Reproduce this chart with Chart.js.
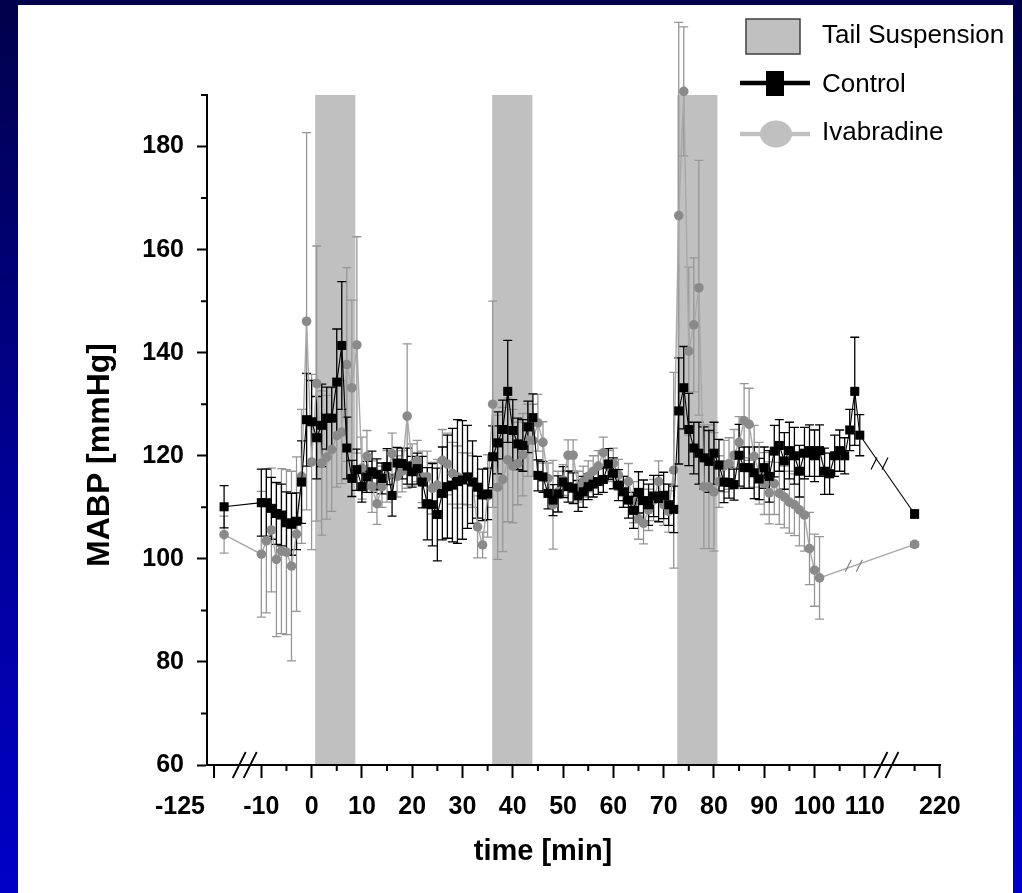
<!DOCTYPE html>
<html>
<head>
<meta charset="utf-8">
<title>MABP - tail suspension</title>
<script src="https://cdn.jsdelivr.net/npm/chart.js@4.4.1/dist/chart.umd.min.js"></script>
<style>
  html, body { margin: 0; padding: 0; }
  body { width: 1022px; height: 893px; position: relative; overflow: hidden;
         background: linear-gradient(to bottom, #00004a 0%, #000090 50%, #0000c8 100%); }
  #paper { position: absolute; left: 18px; top: 5px; width: 995px; height: 888px; background: #fff; }
  #chart { position: absolute; left: 0; top: 0; }
</style>
</head>
<body>
<div id="paper"></div>
<canvas id="chart" width="1022" height="893"></canvas>
<script>
// time grid of the recording (min)
const minutes = [
  -10, -9, -8, -7, -6, -5, -4, -3, -2, -1,
  0, 1, 2, 3, 4, 5, 6, 7, 8, 9,
  10, 11, 12, 13, 14, 15, 16, 17, 18, 19,
  20, 21, 22, 23, 24, 25, 26, 27, 28, 29,
  30, 31, 32, 33, 34, 35, 36, 37, 38, 39,
  40, 41, 42, 43, 44, 45, 46, 47, 48, 49,
  50, 51, 52, 53, 54, 55, 56, 57, 58, 59,
  60, 61, 62, 63, 64, 65, 66, 67, 68, 69,
  70, 71, 72, 73, 74, 75, 76, 77, 78, 79,
  80, 81, 82, 83, 84, 85, 86, 87, 88, 89,
  90, 91, 92, 93, 94, 95, 96, 97, 98, 99,
  100, 101, 102, 103, 104, 105, 106, 107, 108, 109
];

// Control: MABP mean and SEM (mmHg)
const controlMean = [
  110.9, 110.9, 109.8, 108.8, 108.5, 107.0, 106.7, 107.3, 114.9, 127.0,
  126.6, 123.5, 125.9, 127.3, 127.3, 134.3, 141.4, 121.5, 115.6, 117.3,
  114.0, 115.9, 116.9, 116.4, 115.6, 117.9, 112.3, 118.6, 118.5, 118.0,
  116.9, 117.5, 114.9, 110.7, 110.5, 108.6, 112.7, 114.0, 114.3, 115.0,
  115.3, 115.9, 114.9, 113.9, 112.4, 112.6, 119.8, 122.5, 125.1, 132.5,
  124.9, 122.3, 122.0, 125.6, 127.4, 116.2, 115.9, 112.7, 111.4, 112.6,
  114.9, 114.0, 113.7, 112.2, 113.0, 114.0, 114.5, 115.0, 115.4, 118.4,
  116.6, 114.3, 113.0, 111.4, 109.4, 112.9, 111.3, 110.5, 112.2, 111.7,
  112.3, 110.5, 109.6, 128.7, 133.2, 125.1, 121.5, 120.5, 119.6, 118.9,
  120.5, 118.2, 114.9, 114.8, 114.4, 120.1, 117.7, 117.7, 116.7, 115.5,
  117.7, 116.0, 120.9, 122.0, 119.0, 121.0, 120.0, 117.0, 120.5, 121.0,
  120.0, 121.0, 117.0, 116.5, 120.0, 121.0, 120.0, 125.0, 132.5, 124.0
];
const controlSem = [
  6.5, 6.5, 6.0, 6.0, 6.0, 6.0, 6.0, 5.5, 8.0, 9.0,
  8.0, 8.0, 8.0, 6.0, 6.0, 10.3, 12.4, 6.0, 3.5, 4.0,
  3.0, 3.0, 4.0, 3.0, 3.0, 3.5, 4.0, 3.0, 3.0, 3.5,
  3.0, 3.0, 5.0, 7.0, 8.0, 9.0, 9.0, 10.0, 11.0, 12.0,
  11.5, 10.0, 8.0, 6.0, 5.0, 5.0, 6.0, 6.0, 5.7, 9.9,
  6.0, 5.0, 5.0, 5.0, 4.6, 3.0, 3.0, 3.0, 3.0, 3.5,
  3.0, 3.0, 3.0, 3.0, 3.0, 2.5, 2.5, 2.5, 2.5, 3.0,
  3.0, 3.0, 3.0, 3.5, 3.5, 4.0, 4.0, 4.0, 4.0, 4.5,
  4.5, 4.0, 4.5, 10.3, 8.0, 7.0, 5.0, 6.0, 6.0, 6.0,
  6.0, 5.0, 4.0, 3.0, 3.0, 6.0, 4.0, 4.0, 5.0, 4.0,
  4.0, 5.0, 5.0, 5.0, 5.5, 5.5, 5.5, 5.0, 5.0, 5.0,
  5.0, 5.0, 4.5, 4.0, 4.0, 4.0, 3.5, 4.0, 10.5, 4.0
];

// Ivabradine: MABP mean and SEM (mmHg), -10 .. 101 min
const ivabMean = [
  100.9, 103.5, 105.6, 99.9, 101.5, 101.3, 98.6, 104.8, 116.0, 146.1,
  118.8, 134.0, 118.6, 119.7, 121.2, 123.9, 124.6, 137.7, 133.2, 141.5,
  117.6, 119.9, 114.0, 110.7, 114.0, 116.0, 120.4, 116.0, 117.0, 127.7,
  118.3, 119.0, 115.9, 115.9, 113.7, 114.3, 119.1, 118.4, 116.6, 115.9,
  115.6, 115.5, 115.0, 106.2, 102.7, 112.2, 130.0, 113.9, 115.4, 119.2,
  118.0, 118.5, 120.2, 123.0, 123.0, 126.4, 122.6, 115.6, 110.5, 113.0,
  115.3, 120.1, 120.1, 114.0, 115.0, 116.0, 117.0, 118.0, 120.6, 118.0,
  118.5, 116.3, 113.0, 115.0, 111.0, 107.8, 106.9, 109.5, 111.4, 115.0,
  110.5, 109.2, 117.2, 166.6, 190.7, 140.3, 145.4, 152.6, 114.0, 114.0,
  113.0, 115.0, 118.0, 118.5, 120.1, 122.6, 126.8, 126.1, 119.9, 116.6,
  114.6, 112.8, 114.6, 112.7, 112.0, 111.0, 110.5, 109.5, 108.5, 102.0,
  97.8, 96.3
];
const ivabSem = [
  12.2, 14.0, 12.0, 15.0, 16.0, 16.0, 18.4, 15.0, 13.0, 36.6,
  17.0, 26.7, 14.0, 12.0, 12.0, 10.0, 10.0, 18.8, 17.0, 21.0,
  6.0, 5.0, 5.0, 4.0, 4.0, 5.0, 4.0, 4.0, 4.0, 14.0,
  4.0, 4.0, 5.0, 5.0, 5.0, 5.0, 6.0, 6.0, 6.0, 6.0,
  5.0, 5.0, 5.0, 6.0, 2.5, 8.0, 20.0, 14.0, 14.0, 12.0,
  11.0, 8.0, 8.0, 7.0, 7.0, 5.5, 4.0, 3.0, 8.6, 4.0,
  3.0, 3.0, 3.0, 3.0, 3.0, 3.0, 3.0, 3.0, 3.0, 3.0,
  3.0, 3.0, 3.0, 3.5, 4.0, 4.0, 4.0, 4.0, 4.0, 4.0,
  4.0, 4.0, 19.0, 37.5, 12.5, 16.3, 13.0, 24.7, 12.0, 12.0,
  11.5, 5.0, 5.0, 5.0, 5.0, 5.0, 7.2, 7.0, 6.0, 6.0,
  6.0, 6.0, 6.0, 6.0, 6.0, 6.0, 6.0, 7.0, 7.0, 7.0,
  7.0, 8.0
];

// points beyond the axis breaks (baseline and 215 min)
const outerTime = [-123, 215];
const controlOuter = [110.1, 108.7];
const controlOuterSem = [4.1, 0.8];
const ivabOuter = [104.7, 102.8];
const ivabOuterSem = [3.6, 0.5];

// tail suspension periods (min)
const suspensionBands = [[0.7, 8.7], [35.9, 43.9], [72.7, 80.7]];

const tickMinutes = [-125, -10, -5, 0, 5, 10, 15, 20, 25, 30, 35, 40, 45, 50, 55,
  60, 65, 70, 75, 80, 85, 90, 95, 100, 105, 110, 215, 220];
const tickLabels = ['-125', '-10', '', '0', '', '10', '', '20', '', '30', '', '40', '', '50', '',
  '60', '', '70', '', '80', '', '90', '', '100', '', '110', '', '220'];

// broken axis: squeeze the far ends next to the -10..110 range
function brk(t) {
  if (t < -50) return t + 105.6;
  if (t > 150) return t - 95.1;
  return t;
}

function series(mean, sem, outer, outerSem) {
  const pts = [{ x: brk(outerTime[0]), y: outer[0], sem: outerSem[0] }];
  mean.forEach((v, i) => pts.push({ x: brk(minutes[i]), y: v, sem: sem[i] }));
  pts.push({ x: brk(outerTime[1]), y: outer[1], sem: outerSem[1] });
  return pts;
}

const FONT = 'Arial, "Liberation Sans", sans-serif';
Chart.defaults.font.family = FONT;
Chart.defaults.color = '#000';

const decor = {
  id: 'decor',
  beforeDatasetsDraw(chart) {
    const { ctx, scales: { x, y } } = chart;
    ctx.save();
    // shaded tail suspension periods
    ctx.fillStyle = '#c0c0c0';
    const top = y.getPixelForValue(190), bot = y.getPixelForValue(60) - 1;
    suspensionBands.forEach(([a, b]) => {
      const x0 = x.getPixelForValue(a), x1 = x.getPixelForValue(b);
      ctx.fillRect(x0, top, x1 - x0, bot - top);
    });
    // error bars (mean +/- SEM)
    [1, 0].forEach(di => {
      const ds = chart.data.datasets[di];
      const meta = chart.getDatasetMeta(di);
      ctx.strokeStyle = ds.errorColor;
      ctx.lineWidth = 1.3;
      ctx.beginPath();
      ds.data.forEach((p, i) => {
        const px = meta.data[i].x;
        const yt = y.getPixelForValue(p.y + p.sem), yb = y.getPixelForValue(p.y - p.sem);
        ctx.moveTo(px, yt); ctx.lineTo(px, yb);
        ctx.moveTo(px - 4.5, yt); ctx.lineTo(px + 4.5, yt);
        ctx.moveTo(px - 4.5, yb); ctx.lineTo(px + 4.5, yb);
      });
      ctx.stroke();
    });
    ctx.restore();
  },
  afterDraw(chart) {
    const { ctx, chartArea: ca, scales: { x, y } } = chart;
    ctx.save();
    ctx.strokeStyle = '#000';
    ctx.lineWidth = 2;
    // minor ticks
    ctx.beginPath();
    tickMinutes.forEach((t, i) => {
      if (tickLabels[i]) return;
      const px = x.getPixelForValue(brk(t));
      ctx.moveTo(px, ca.bottom); ctx.lineTo(px, ca.bottom + 6);
    });
    for (let v = 70; v <= 190; v += 20) {
      const py = y.getPixelForValue(v);
      ctx.moveTo(ca.left, py); ctx.lineTo(ca.left - 6, py);
    }
    // the -125 tick (its label sits further left, drawn below)
    const p125 = x.getPixelForValue(brk(-125));
    ctx.moveTo(p125, ca.bottom); ctx.lineTo(p125, ca.bottom + 13);
    ctx.stroke();

    // axis break marks
    const slash = (cx, cy, h) => {
      ctx.beginPath();
      [-5.5, 5.5].forEach(d => {
        ctx.moveTo(cx + d - h / 2, cy + h); ctx.lineTo(cx + d + h / 2, cy - h);
      });
      ctx.stroke();
    };
    ctx.lineWidth = 1.8;
    [-13.3, 114.3].forEach(u => slash(x.getPixelForValue(u), ca.bottom, 13));

    // break marks on the lines going to the 215 min points
    ctx.lineWidth = 1.2;
    [0, 1].forEach(di => {
      const pts = chart.getDatasetMeta(di).data;
      const a = pts[pts.length - 2], b = pts[pts.length - 1];
      const f = 0.36;
      ctx.strokeStyle = di === 0 ? '#000' : '#808080';
      slash(a.x + (b.x - a.x) * f, a.y + (b.y - a.y) * f, 6);
    });

    // legend
    ctx.fillStyle = '#c0c0c0';
    ctx.strokeStyle = '#404040';
    ctx.lineWidth = 1.5;
    ctx.fillRect(746, 19, 54, 35);
    ctx.strokeRect(746, 19, 54, 35);
    ctx.fillStyle = '#000';
    ctx.strokeStyle = '#000';
    ctx.lineWidth = 4.5;
    ctx.beginPath(); ctx.moveTo(740, 83); ctx.lineTo(810, 83); ctx.stroke();
    ctx.fillRect(766, 71, 18, 25);
    ctx.strokeStyle = '#c0c0c0';
    ctx.beginPath(); ctx.moveTo(740, 134); ctx.lineTo(810, 134); ctx.stroke();
    ctx.fillStyle = '#c0c0c0';
    ctx.beginPath(); ctx.ellipse(776, 134, 16, 13.5, 0, 0, Math.PI * 2); ctx.fill();
    ctx.fillStyle = '#000';
    ctx.font = '26px ' + FONT;
    ctx.textAlign = 'left';
    ctx.textBaseline = 'alphabetic';
    ctx.fillText('Tail Suspension', 822, 43);
    ctx.fillText('Control', 822, 92);
    ctx.fillText('Ivabradine', 822, 140);

    // -125 label, offset to the left of its tick as in the original figure
    ctx.font = 'bold 25px ' + FONT;
    ctx.textAlign = 'center';
    ctx.textBaseline = 'middle';
    ctx.fillText('-125', 180, 807);

    // axis titles
    ctx.font = 'bold 29px ' + FONT;
    ctx.fillText('time [min]', 543, 852);
    ctx.font = 'bold 32px ' + FONT;
    ctx.translate(100, 455);
    ctx.rotate(-Math.PI / 2);
    ctx.fillText('MABP [mmHg]', 0, 0);
    ctx.restore();
  }
};

const tickFont = { family: FONT, size: 25, weight: 'bold' };

new Chart(document.getElementById('chart'), {
  type: 'line',
  data: {
    datasets: [
      {
        label: 'Control',
        data: series(controlMean, controlSem, controlOuter, controlOuterSem),
        borderColor: '#000',
        borderWidth: 1.1,
        pointStyle: 'rect',
        pointRadius: 6.4,
        pointBackgroundColor: '#000',
        pointBorderColor: '#000',
        pointBorderWidth: 0,
        errorColor: '#000',
        tension: 0,
        clip: false
      },
      {
        label: 'Ivabradine',
        data: series(ivabMean, ivabSem, ivabOuter, ivabOuterSem),
        borderColor: '#a8a8a8',
        borderWidth: 1.4,
        pointStyle: 'circle',
        pointRadius: 4.8,
        pointBackgroundColor: '#8a8a8a',
        pointBorderColor: '#8a8a8a',
        pointBorderWidth: 0,
        errorColor: '#969696',
        tension: 0,
        clip: false
      }
    ]
  },
  options: {
    responsive: false,
    animation: false,
    events: [],
    layout: { padding: { left: 0, top: 95, right: 82, bottom: 0 } },
    plugins: { legend: { display: false }, tooltip: { enabled: false } },
    scales: {
      x: {
        type: 'linear',
        min: -20.8,
        max: 124.95,
        afterBuildTicks: axis => { axis.ticks = tickMinutes.map(t => ({ value: brk(t) })); },
        afterFit: axis => { axis.height = 128; },
        ticks: {
          autoSkip: false,
          maxRotation: 0,
          padding: 14,
          font: tickFont,
          color: '#000',
          // -125 is written separately, left of its tick
          callback: (v, i) => (i === 0 ? '' : tickLabels[i])
        },
        grid: {
          drawOnChartArea: false,
          tickLength: 13,
          tickWidth: 2,
          tickColor: c => (c.index > 0 && tickLabels[c.index] ? '#000' : 'rgba(0,0,0,0)')
        },
        border: { color: '#000', width: 2 }
      },
      y: {
        min: 60,
        max: 190,
        afterFit: axis => { axis.width = 207; },
        ticks: {
          stepSize: 10,
          padding: 13,
          font: tickFont,
          color: '#000',
          callback: v => (v % 20 === 0 ? String(v) : '')
        },
        grid: {
          drawOnChartArea: false,
          tickLength: 10,
          tickWidth: 2,
          tickColor: c => (c.tick && c.tick.value % 20 === 0 ? '#000' : 'rgba(0,0,0,0)')
        },
        border: { color: '#000', width: 2 }
      }
    }
  },
  plugins: [decor]
});
</script>
</body>
</html>
